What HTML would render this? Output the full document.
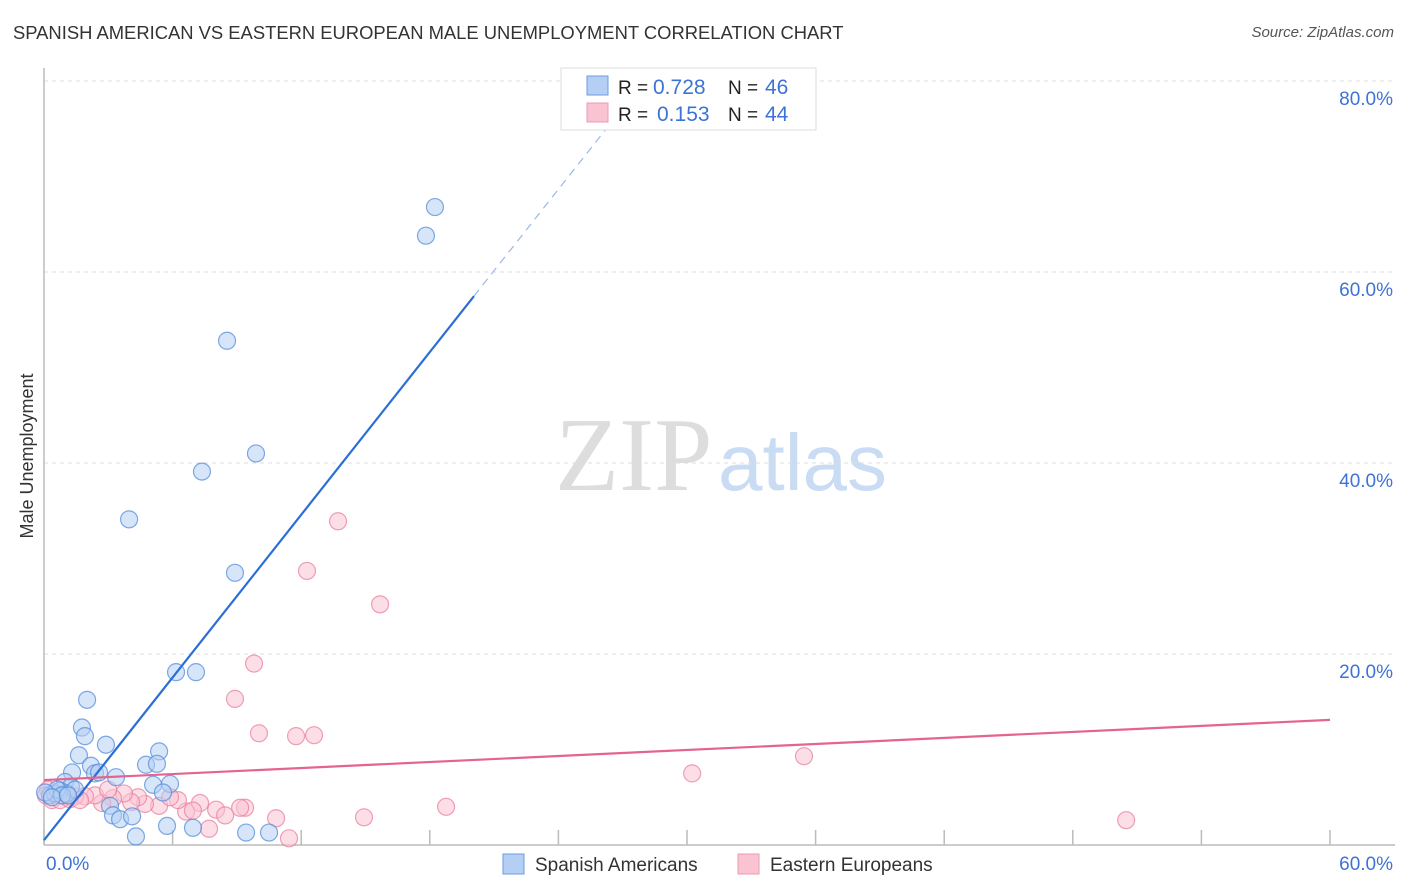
<!DOCTYPE html>
<html><head><meta charset="utf-8"><style>
body{margin:0;background:#fff;font-family:"Liberation Sans",sans-serif;}
.t{position:absolute;}
</style></head><body>
<div style="position:relative;width:1406px;height:892px;overflow:hidden">
<div class="t" style="left:13px;top:22px;font-size:18.4px;color:#333">SPANISH AMERICAN VS EASTERN EUROPEAN MALE UNEMPLOYMENT CORRELATION CHART</div>
<div class="t" style="right:12px;top:24px;font-size:15px;color:#555;font-style:italic">Source: ZipAtlas.com</div>
<svg id="svg" width="1406" height="892" style="position:absolute;left:0;top:0"></svg>
</div>
<script>
const blueX=[18.24,17.82,8.54,9.89,7.37,3.97,8.91,6.16,7.09,2.01,1.77,1.91,2.89,1.63,5.37,4.76,5.27,2.19,1.31,2.38,3.36,2.57,0.98,1.26,5.88,5.09,5.55,0.28,0.51,0.75,1.07,1.45,3.08,3.22,3.55,4.11,5.74,6.95,9.43,10.5,4.29,0.61,0.84,0.05,0.37,1.12];
const blueY=[66.8,63.8,52.8,41.0,39.1,34.1,28.5,18.1,18.1,15.2,12.3,11.4,10.5,9.4,9.8,8.4,8.5,8.3,7.6,7.5,7.1,7.6,6.6,6.1,6.4,6.3,5.5,5.2,5.4,5.7,5.4,5.8,4.1,3.1,2.7,3.0,2.0,1.8,1.3,1.3,0.9,5.8,5.2,5.5,5.0,5.2];
const pinkX=[13.72,12.27,15.68,9.80,8.91,10.03,11.76,12.60,30.24,35.46,50.49,18.76,14.93,10.83,11.43,7.70,9.38,9.15,8.03,7.28,6.63,6.95,6.25,5.37,4.71,4.39,4.06,3.73,3.22,2.71,2.38,1.91,1.45,1.03,0.56,0.19,0.09,0.37,0.75,1.21,1.68,2.99,5.88,8.45];
const pinkY=[33.9,28.7,25.2,19.0,15.3,11.7,11.4,11.5,7.5,9.3,2.6,4.0,2.9,2.8,0.7,1.7,3.9,3.9,3.7,4.4,3.5,3.6,4.7,4.1,4.3,5.0,4.5,5.4,4.9,4.4,5.2,5.1,5.1,5.0,5.4,5.8,5.2,4.7,4.7,4.8,4.7,5.8,5.0,3.1];
const yTicks=[20,40,60,80];
const xTickVals=[0,6,12,18,24,30,36,42,48,54,60];
const blueTrend=[0.5,2.84];
const pinkTrend=[6.8,0.105];
const X=v=>44+v/60*1286, Y=v=>845-v*9.55;
const svg=document.getElementById('svg');const NS='http://www.w3.org/2000/svg';
function mk(t,a,p){const e=document.createElementNS(NS,t);for(const k in a)e.setAttribute(k,a[k]);(p||svg).appendChild(e);return e;}
let w=mk('text',{x:555,y:490,'font-size':105,fill:'#ddd','font-family':'Liberation Serif,serif'});w.textContent='ZIP';


w=mk('text',{x:718,y:490,'font-size':80,fill:'#c9dcf3','font-family':'Liberation Sans,sans-serif'});w.textContent='atlas';


yTicks.forEach(v=>{const l=mk('line',{x1:44,x2:1395,y1:Y(v),y2:Y(v),stroke:'#ddd','stroke-dasharray':'4,4'});


const t=mk('text',{x:1393,y:Y(v)+24,'text-anchor':'end','font-size':19,fill:'#3d73d6'});t.textContent=v.toFixed(1)+'%';

});
mk('line',{x1:44,x2:44,y1:68,y2:845,stroke:'#bbb','stroke-width':1.5});
mk('line',{x1:44,x2:1395,y1:845,y2:845,stroke:'#bbb','stroke-width':1.5});
xTickVals.forEach(v=>{const l=mk('line',{x1:X(v),x2:X(v),y1:830,y2:845,stroke:'#bbb','stroke-width':1.5});

});
let t=mk('text',{x:46,y:870,'font-size':19,fill:'#3d73d6'});t.textContent='0.0%';


t=mk('text',{x:1393,y:870,'font-size':19,fill:'#3d73d6','text-anchor':'end'});t.textContent='60.0%';


t=mk('text',{x:33,y:456,'font-size':18,fill:'#333','text-anchor':'middle',transform:'rotate(-90 33 456)'});t.textContent='Male Unemployment';


function dots(xs,ys,f,s,n){xs.forEach((x,i)=>{const c=mk('circle',{cx:X(x),cy:Y(ys[i]),r:8.5,fill:f,'fill-opacity':0.55,stroke:s,'stroke-opacity':0.7,'stroke-width':1.2});

});}
dots(pinkX,pinkY,'#f9c3d2','#e8799b','point-eastern-european');
dots(blueX,blueY,'#b4cff3','#4a86dc','point-spanish-american');
let l=mk('line',{x1:X(0),y1:Y(blueTrend[0]),x2:X(20.06),y2:Y(blueTrend[0]+blueTrend[1]*20.06),stroke:'#2a6fd6','stroke-width':2.2});


l=mk('line',{x1:X(20.06),y1:Y(blueTrend[0]+blueTrend[1]*20.06),x2:X(27.5),y2:Y(blueTrend[0]+blueTrend[1]*27.5),stroke:'#9bb8e6','stroke-width':1.2,'stroke-dasharray':'8,6'});


l=mk('line',{x1:X(0),y1:Y(pinkTrend[0]),x2:X(60),y2:Y(pinkTrend[0]+pinkTrend[1]*60),stroke:'#e4648f','stroke-width':2.2});


const g=mk('g',{});


mk('rect',{x:561,y:68,width:255,height:62,fill:'#fff',stroke:'#ddd'},g);
mk('rect',{x:587,y:76,width:21,height:19,fill:'#b4cff3',stroke:'#6a9be0'},g);
mk('rect',{x:587,y:103,width:21,height:19,fill:'#f9c3d2',stroke:'#ec9ab4'},g);
[[94,'0.728','46',653],[121,'0.153','44',657]].forEach(r=>{
let a=mk('text',{x:618,y:r[0],'font-size':19,fill:'#222'},g);a.textContent='R =';
a=mk('text',{x:r[3],y:r[0],'font-size':21,fill:'#3d73d6'},g);a.textContent=r[1];
a=mk('text',{x:728,y:r[0],'font-size':19,fill:'#222'},g);a.textContent='N =';
a=mk('text',{x:765,y:r[0],'font-size':21,fill:'#3d73d6'},g);a.textContent=r[2];});
[[503,'#b4cff3','#6a9be0','Spanish Americans','legend-spanish-americans'],[738,'#f9c3d2','#ec9ab4','Eastern Europeans','legend-eastern-europeans']].forEach(r=>{
const gg=mk('g',{});


mk('rect',{x:r[0],y:854,width:21,height:20,fill:r[1],stroke:r[2]},gg);
const a=mk('text',{x:r[0]+32,y:871,'font-size':19,fill:'#333'},gg);a.textContent=r[3];});
</script>
</body></html>
